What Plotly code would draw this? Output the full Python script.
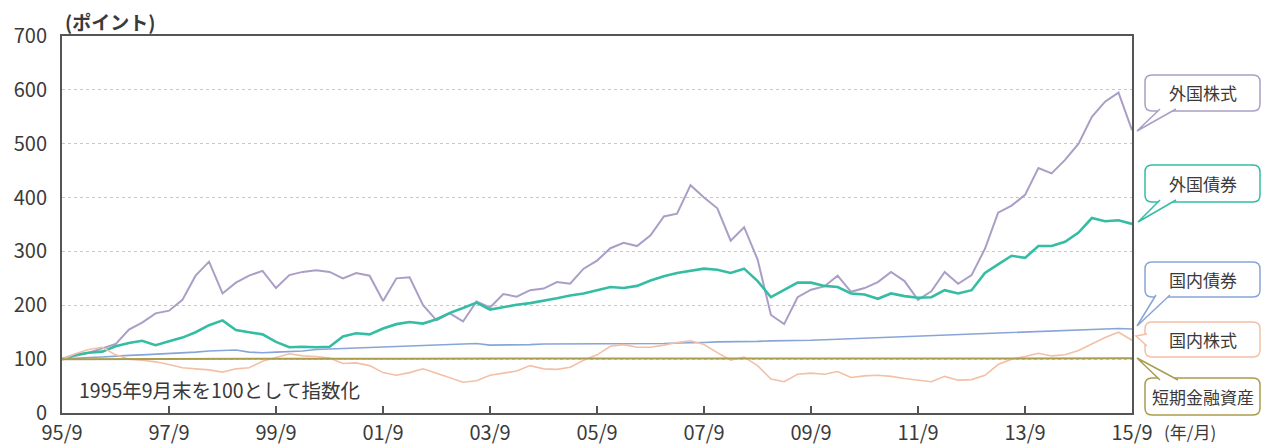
import plotly.graph_objects as go

# ---- data (quarterly, index: 1995/9 = 100) ----
START_YEAR = 1995
DATES = []
for i in range(81):
    m = 9 + 3 * i
    y = START_YEAR + (m - 1) // 12
    mm = (m - 1) % 12 + 1
    DATES.append(f"{y}-{mm:02d}-01")

foreign_equity = [100, 106, 112, 120, 128, 155, 168, 185, 190, 210, 255, 281, 222, 242, 255, 264,
                  232, 256, 262, 265, 262, 250, 260, 255, 208, 250, 252, 200, 172, 185, 170, 207,
                  196, 221, 216, 228, 231, 243, 240, 268, 283, 306, 316, 310, 330, 365, 370, 423,
                  400, 380, 320, 345, 285, 182, 165, 215, 229, 235, 255, 225, 232, 243, 262, 245,
                  210, 226, 262, 240, 256, 305, 372, 385, 405, 455, 445, 470, 500, 550, 578, 595, 525]
foreign_bond = [100, 108, 112, 114, 124, 130, 134, 126, 133, 140, 150, 163, 172, 154, 150, 146,
                132, 122, 123, 122, 123, 142, 148, 146, 157, 165, 169, 166, 174, 186, 195, 205,
                192, 197, 201, 204, 208, 213, 218, 222, 228, 234, 232, 236, 246, 254, 260, 264,
                268, 266, 260, 268, 245, 215, 228, 242, 242, 236, 234, 222, 220, 212, 222, 217,
                214, 215, 228, 222, 228, 260, 276, 292, 288, 310, 310, 318, 335, 362, 356, 358, 351]
domestic_bond = [100, 102, 103, 104, 106, 107, 108, 109, 110, 111, 113, 115, 116, 117, 113, 112,
                 113, 114, 115, 118, 119, 120, 121, 122, 123, 123, 124, 125, 126, 127, 128, 129,
                 126, 126, 127, 127, 128, 128, 129, 129, 129, 128, 128, 129, 129, 129, 130, 130,
                 131, 132, 132, 133, 133, 134, 134, 135, 135, 136, 137, 138, 139, 139, 140, 141,
                 142, 143, 144, 145, 146, 147, 148, 149, 150, 151, 152, 153, 154, 155, 156, 157, 156]
domestic_equity = [100, 110, 118, 122, 108, 100, 98, 95, 90, 84, 82, 80, 76, 82, 84, 96,
                   103, 110, 106, 105, 102, 92, 93, 88, 75, 70, 75, 82, 74, 65, 57, 60,
                   70, 74, 78, 88, 82, 81, 85, 98, 108, 124, 127, 122, 122, 126, 131, 134,
                   127, 112, 98, 104, 88, 63, 58, 72, 74, 72, 77, 66, 69, 70, 68, 64,
                   61, 58, 68, 61, 62, 70, 90, 100, 105, 111, 106, 108, 116, 128, 140, 150, 135]
short_term = [100.0, 100.1, 100.2, 100.3, 100.4, 100.5, 100.5, 100.6, 100.6, 100.7, 100.7, 100.7, 100.8, 100.8, 100.8, 100.8,
              100.8, 100.8, 100.8, 100.8, 100.8, 100.9, 100.9, 100.9, 100.9, 100.9, 100.9, 100.9, 100.9, 100.9, 100.9, 100.9,
              100.9, 100.9, 100.9, 100.9, 100.9, 100.9, 100.9, 100.9, 100.9, 100.9, 100.9, 101.0, 101.0, 101.0, 101.0, 101.1,
              101.1, 101.2, 101.2, 101.3, 101.3, 101.3, 101.4, 101.4, 101.4, 101.4, 101.4, 101.4, 101.4, 101.4, 101.4, 101.4,
              101.5, 101.5, 101.5, 101.5, 101.5, 101.5, 101.5, 101.5, 101.5, 101.5, 101.5, 101.5, 101.5, 101.5, 101.5, 101.5, 101.5]

SERIES = [
    ("外国株式", foreign_equity, "#ab9ec6", 2.0),
    ("外国債券", foreign_bond, "#35bda4", 2.6),
    ("国内債券", domestic_bond, "#88a5d8", 1.6),
    ("国内株式", domestic_equity, "#f3c0a6", 1.6),
    ("短期金融資産", short_term, "#ab9d50", 2.0),
]

TICK_VALS = [f"{y}-09-01" for y in range(1995, 2016, 2)]
TICK_TEXT = ["95/9", "97/9", "99/9", "01/9", "03/9", "05/9", "07/9", "09/9", "11/9", "13/9", "15/9"]
Y_TICKS = [0, 100, 200, 300, 400, 500, 600, 700]

FONT = "Noto Sans CJK JP, Noto Sans, sans-serif"
W, H = 1264, 445
L, R, T, B = 62, 1132, 36, 413


def P(x, y):
    return (x - L) / (R - L), (B - y) / (B - T)


def path_from(points, close=True):
    s = ""
    for cmd, pts in points:
        s += cmd + " " + " ".join(f"{P(px, py)[0]:.5f},{P(px, py)[1]:.5f}" for px, py in pts) + " "
    if close:
        s += "Z"
    return s


def rrect(x0, y0, x1, y1, r=7):
    pts = [("M", [(x0 + r, y0)]), ("L", [(x1 - r, y0)]), ("Q", [(x1, y0), (x1, y0 + r)]),
           ("L", [(x1, y1 - r)]), ("Q", [(x1, y1), (x1 - r, y1)]), ("L", [(x0 + r, y1)]),
           ("Q", [(x0, y1), (x0, y1 - r)]), ("L", [(x0, y0 + r)]), ("Q", [(x0, y0), (x0 + r, y0)])]
    return path_from(pts)


fig = go.Figure()
for name, vals, color, width in SERIES:
    fig.add_trace(go.Scatter(x=DATES, y=vals, mode="lines", name=name,
                             line=dict(color=color, width=width), hoverinfo="skip"))

# callout boxes: (label, color, box y0, y1, tail base a, tail base b, tip)
CALLOUTS = [
    ("外国株式", "#ab9ec6", 75, 111, (1160, 109), (1176, 109), (1137, 131)),
    ("外国債券", "#35bda4", 165, 202, (1160, 200), (1176, 200), (1138, 222)),
    ("国内債券", "#88a5d8", 262, 297, (1156, 295), (1170, 295), (1137, 326)),
    ("国内株式", "#f3c0a6", 322, 357, (1147, 334), (1147, 346), (1136, 336)),
    ("短期金融資産", "#ab9d50", 378, 415, (1160, 380), (1178, 380), (1137, 358)),
]
shapes = []
annotations = []
BX0, BX1 = 1145, 1260
for label, color, y0, y1, a, b, tip in CALLOUTS:
    shapes.append(dict(type="path", xref="paper", yref="paper", path=rrect(BX0, y0, BX1, y1),
                       fillcolor="white", line=dict(color=color, width=1.5), layer="above"))
    shapes.append(dict(type="path", xref="paper", yref="paper",
                       path=path_from([("M", [a]), ("L", [tip]), ("L", [b])], close=False),
                       fillcolor="white", line=dict(color=color, width=1.5), layer="above"))
    cx, cy = P((BX0 + BX1) / 2, (y0 + y1) / 2)
    annotations.append(dict(x=cx, y=cy, xref="paper", yref="paper", xanchor="center", yanchor="middle",
                            text=label, showarrow=False,
                            font=dict(family=FONT, size=17, color="#3a3a3a")))

annotations += [
    dict(x=P(63, 0)[0], y=P(0, 21)[1], xref="paper", yref="paper", xanchor="left", yanchor="middle",
         text="<b>(ポイント)</b>", showarrow=False, font=dict(family=FONT, size=19, color="#3a3a3a")),
    dict(x=P(77, 0)[0], y=P(0, 389)[1], xref="paper", yref="paper", xanchor="left", yanchor="middle",
         text="1995年9月末を100として指数化", showarrow=False,
         font=dict(family=FONT, size=19.5, color="#3a3a3a")),
    dict(x=P(1162, 0)[0], y=P(0, 431)[1], xref="paper", yref="paper", xanchor="left", yanchor="middle",
         text="(年/月)", showarrow=False, font=dict(family=FONT, size=17, color="#3a3a3a")),
]

fig.update_layout(
    width=W, height=H,
    margin=dict(l=L, r=W - R, t=T, b=H - B, autoexpand=False),
    paper_bgcolor="white", plot_bgcolor="white",
    showlegend=False,
    font=dict(family=FONT, color="#3a3a3a"),
    shapes=shapes, annotations=annotations,
    xaxis=dict(type="date", range=["1995-09-01", "2015-09-01"], tickvals=TICK_VALS, ticktext=TICK_TEXT,
               ticks="inside", ticklen=7, tickwidth=1.5, tickcolor="#555555", automargin=False,
               showline=True, linecolor="#555555", linewidth=2, mirror=True, ticklabelstandoff=1,
               showgrid=False, zeroline=False, tickfont=dict(size=20, color="#3a3a3a")),
    yaxis=dict(range=[0, 700], tickvals=Y_TICKS, showline=True, linecolor="#555555", linewidth=2,
               mirror=True, showgrid=True, gridcolor="#c8c8c8", griddash="dot", gridwidth=1,
               automargin=False, zeroline=False, ticks="", ticklabelstandoff=9,
               tickfont=dict(size=20, color="#3a3a3a")),
)

fig.write_html("out.html", config={"displayModeBar": False},
               post_script="document.body.style.margin='0';document.body.style.overflow='hidden';")
